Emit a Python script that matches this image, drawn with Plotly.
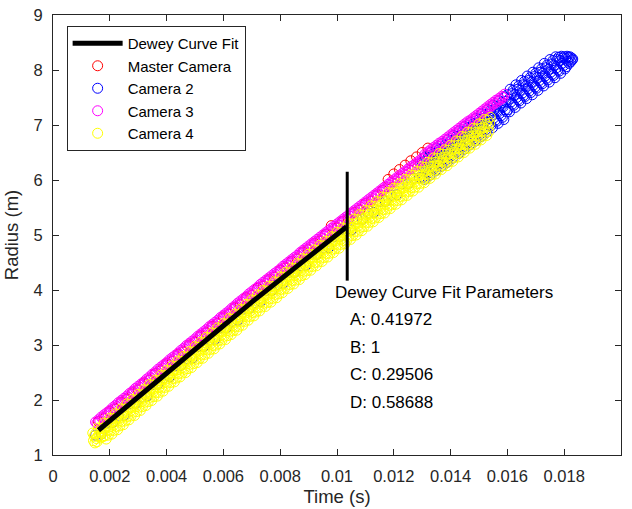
import plotly.graph_objects as go

# ---------------- data ----------------
fit_time = [0.0016, 0.0020, 0.0030, 0.0040, 0.0050, 0.0060, 0.0070, 0.0080, 0.0090, 0.0100, 0.01034]
fit_radius = [1.45, 1.625, 2.06, 2.495, 2.925, 3.35, 3.78, 4.195, 4.605, 5.01, 5.15]

fit_end_time = [0.01036, 0.01036]
fit_end_marker = [4.17, 6.15]

master_time = [0.0016, 0.0018, 0.0020, 0.0022, 0.0024, 0.0026, 0.0028, 0.0030, 0.0032, 0.0034,
               0.0036, 0.0038, 0.0040, 0.0042, 0.0044, 0.0046, 0.0048, 0.0050, 0.0052, 0.0054,
               0.0056, 0.0058, 0.0060, 0.0062, 0.0064, 0.0066, 0.0068, 0.0070, 0.0072, 0.0074,
               0.0076, 0.0078, 0.0080, 0.0082, 0.0084, 0.0086, 0.0088, 0.0090, 0.0092, 0.0094,
               0.0096, 0.0098, 0.0100, 0.0102, 0.0104, 0.0106, 0.0108, 0.0110, 0.0112, 0.0114,
               0.0116, 0.0118, 0.0120, 0.0122, 0.0124, 0.0126, 0.0128, 0.0130, 0.0132]
master_radius = [1.61, 1.66, 1.79, 1.83, 1.96, 2.01, 2.13, 2.18, 2.31, 2.36,
                 2.48, 2.53, 2.66, 2.70, 2.83, 2.87, 3.00, 3.05, 3.17, 3.22,
                 3.34, 3.39, 3.51, 3.56, 3.68, 3.73, 3.86, 3.90, 4.03, 4.07,
                 4.19, 4.23, 4.36, 4.40, 4.52, 4.56, 4.69, 4.73, 4.85, 4.89,
                 5.01, 5.17, 5.13, 5.25, 5.29, 5.41, 5.45, 5.57, 5.61, 5.73,
                 5.81, 6.01, 6.11, 6.19, 6.27, 6.35, 6.42, 6.50, 6.58]

cam2_time = [0.0015, 0.0017, 0.0019, 0.0021, 0.0023, 0.0025, 0.0027, 0.0029, 0.0031, 0.0033,
             0.0035, 0.0037, 0.0039, 0.0041, 0.0043, 0.0045, 0.0047, 0.0049, 0.0051, 0.0053,
             0.0055, 0.0057, 0.0059, 0.0061, 0.0063, 0.0065, 0.0067, 0.0069, 0.0071, 0.0073,
             0.0075, 0.0077, 0.0079, 0.0081, 0.0083, 0.0085, 0.0087, 0.0089, 0.0091, 0.0093,
             0.0095, 0.0097, 0.0099, 0.0101, 0.0103, 0.0105, 0.0107, 0.0109, 0.0111, 0.0113,
             0.0115, 0.0117, 0.0119, 0.0121, 0.0123, 0.0125, 0.0127, 0.0129,
             0.013000, 0.013025, 0.013050, 0.013075, 0.013100, 0.013125, 0.013150, 0.013175,
             0.013200, 0.013225, 0.013250, 0.013275, 0.013300, 0.013325, 0.013350, 0.013375,
             0.013400, 0.013425, 0.013450, 0.013475, 0.013500, 0.013525, 0.013550, 0.013575,
             0.013600, 0.013625, 0.013650, 0.013675, 0.013700, 0.013725, 0.013750, 0.013775,
             0.013800, 0.013825, 0.013850, 0.013875, 0.013900, 0.013925, 0.013950, 0.013975,
             0.014000, 0.014025, 0.014050, 0.014075, 0.014100, 0.014125, 0.014150, 0.014175,
             0.014200, 0.014225, 0.014250, 0.014275, 0.014300, 0.014325, 0.014350, 0.014375,
             0.014400, 0.014425, 0.014450, 0.014475, 0.014500, 0.014525, 0.014550, 0.014575,
             0.014600, 0.014625, 0.014650, 0.014675, 0.014700, 0.014725, 0.014750, 0.014775,
             0.014800, 0.014825, 0.014850, 0.014875, 0.014900, 0.014925, 0.014950, 0.014975,
             0.015000, 0.015025, 0.015050, 0.015075, 0.015100, 0.015125, 0.015150, 0.015175,
             0.015200, 0.015225, 0.015250, 0.015275, 0.015300, 0.015325, 0.015350, 0.015375,
             0.015400, 0.015425, 0.015450, 0.015475, 0.015500, 0.015525, 0.015550, 0.015575,
             0.015600, 0.015625, 0.015650, 0.015675, 0.015700, 0.015725, 0.015750, 0.015775,
             0.015800, 0.015825, 0.015850, 0.015875, 0.015900, 0.015925, 0.015950, 0.015975,
             0.016000, 0.016025, 0.016050, 0.016075, 0.016100, 0.016125, 0.016150, 0.016175,
             0.016200, 0.016225, 0.016250, 0.016275, 0.016300, 0.016325, 0.016350, 0.016375,
             0.016400, 0.016425, 0.016450, 0.016475, 0.016500, 0.016525, 0.016550, 0.016575,
             0.016600, 0.016625, 0.016650, 0.016675, 0.016700, 0.016725, 0.016750, 0.016775,
             0.016800, 0.016825, 0.016850, 0.016875, 0.016900, 0.016925, 0.016950, 0.016975,
             0.017000, 0.017025, 0.017050, 0.017075, 0.017100, 0.017125, 0.017150, 0.017175,
             0.017200, 0.017225, 0.017250, 0.017275, 0.017300, 0.017325, 0.017350, 0.017375,
             0.017400, 0.017425, 0.017450, 0.017475, 0.017500, 0.017525, 0.017550, 0.017575,
             0.017600, 0.017625, 0.017650, 0.017675, 0.017700, 0.017725, 0.017750, 0.017775,
             0.017800, 0.017825, 0.017850, 0.017875, 0.017900, 0.017925, 0.017950, 0.017975,
             0.018000, 0.018025, 0.018050, 0.018075, 0.018100, 0.018125, 0.018150, 0.018175,
             0.018200, 0.018225, 0.018250, 0.018275, 0.018300]
cam2_radius = [1.36, 1.38, 1.58, 1.59, 1.71, 1.72, 1.93, 1.94, 2.05, 2.07,
               2.28, 2.29, 2.40, 2.42, 2.62, 2.63, 2.75, 2.76, 2.97, 2.97,
               3.09, 3.10, 3.31, 3.31, 3.43, 3.45, 3.65, 3.66, 3.77, 3.79,
               3.99, 3.99, 4.10, 4.12, 4.32, 4.32, 4.44, 4.45, 4.65, 4.65,
               4.76, 4.77, 4.97, 4.97, 5.08, 5.09, 5.29, 5.29, 5.40, 5.41,
               5.61, 5.61, 5.72, 5.73, 5.93, 5.93, 6.03, 6.04,
               6.32, 6.05, 6.24, 6.01, 6.42, 6.19, 6.34, 6.15,
               6.40, 6.13, 6.32, 6.09, 6.50, 6.27, 6.42, 6.23,
               6.48, 6.21, 6.40, 6.17, 6.58, 6.35, 6.50, 6.31,
               6.56, 6.29, 6.48, 6.25, 6.66, 6.43, 6.58, 6.39,
               6.63, 6.36, 6.55, 6.32, 6.73, 6.50, 6.65, 6.46,
               6.71, 6.44, 6.63, 6.40, 6.81, 6.58, 6.73, 6.54,
               6.79, 6.52, 6.71, 6.48, 6.89, 6.66, 6.81, 6.62,
               6.87, 6.60, 6.79, 6.56, 6.97, 6.74, 6.89, 6.70,
               6.95, 6.68, 6.87, 6.64, 7.05, 6.82, 6.97, 6.78,
               7.02, 6.75, 6.94, 6.71, 7.12, 6.89, 7.04, 6.85,
               7.10, 6.83, 7.02, 6.79, 7.20, 6.97, 7.12, 6.93,
               7.18, 6.91, 7.10, 6.87, 7.28, 7.05, 7.20, 7.01,
               7.26, 6.99, 7.18, 6.95, 7.36, 7.13, 7.28, 7.09,
               7.34, 7.07, 7.26, 7.03, 7.44, 7.21, 7.36, 7.17,
               7.41, 7.14, 7.33, 7.10, 7.51, 7.28, 7.43, 7.24,
               7.55, 7.28, 7.47, 7.24, 7.65, 7.42, 7.57, 7.38,
               7.63, 7.36, 7.55, 7.32, 7.73, 7.50, 7.65, 7.46,
               7.71, 7.44, 7.63, 7.40, 7.81, 7.58, 7.73, 7.54,
               7.79, 7.52, 7.71, 7.48, 7.89, 7.66, 7.81, 7.62,
               7.86, 7.59, 7.78, 7.55, 7.96, 7.73, 7.88, 7.69,
               7.94, 7.67, 7.86, 7.63, 8.04, 7.81, 7.96, 7.77,
               8.02, 7.75, 7.94, 7.71, 8.12, 7.89, 8.04, 7.85,
               8.09, 7.82, 8.01, 7.78, 8.19, 7.96, 8.11, 7.92,
               8.17, 7.90, 8.09, 7.86, 8.24, 8.04, 8.19, 8.00,
               8.23, 7.98, 8.17, 7.94, 8.25, 8.12, 8.22, 8.08,
               8.24, 8.02, 8.21, 8.06, 8.25, 8.16, 8.23, 8.12,
               8.24, 8.15, 8.22, 8.18, 8.20]

cam3_time = [0.00150, 0.00155, 0.00160, 0.00165, 0.00170, 0.00175, 0.00180, 0.00185,
             0.00190, 0.00195, 0.00200, 0.00205, 0.00210, 0.00215, 0.00220, 0.00225,
             0.00230, 0.00235, 0.00240, 0.00245, 0.00250, 0.00255, 0.00260, 0.00265,
             0.00270, 0.00275, 0.00280, 0.00285, 0.00290, 0.00295, 0.00300, 0.00305,
             0.00310, 0.00315, 0.00320, 0.00325, 0.00330, 0.00335, 0.00340, 0.00345,
             0.00350, 0.00355, 0.00360, 0.00365, 0.00370, 0.00375, 0.00380, 0.00385,
             0.00390, 0.00395, 0.00400, 0.00405, 0.00410, 0.00415, 0.00420, 0.00425,
             0.00430, 0.00435, 0.00440, 0.00445, 0.00450, 0.00455, 0.00460, 0.00465,
             0.00470, 0.00475, 0.00480, 0.00485, 0.00490, 0.00495, 0.00500, 0.00505,
             0.00510, 0.00515, 0.00520, 0.00525, 0.00530, 0.00535, 0.00540, 0.00545,
             0.00550, 0.00555, 0.00560, 0.00565, 0.00570, 0.00575, 0.00580, 0.00585,
             0.00590, 0.00595, 0.00600, 0.00605, 0.00610, 0.00615, 0.00620, 0.00625,
             0.00630, 0.00635, 0.00640, 0.00645, 0.00650, 0.00655, 0.00660, 0.00665,
             0.00670, 0.00675, 0.00680, 0.00685, 0.00690, 0.00695, 0.00700, 0.00705,
             0.00710, 0.00715, 0.00720, 0.00725, 0.00730, 0.00735, 0.00740, 0.00745,
             0.00750, 0.00755, 0.00760, 0.00765, 0.00770, 0.00775, 0.00780, 0.00785,
             0.00790, 0.00795, 0.00800, 0.00805, 0.00810, 0.00815, 0.00820, 0.00825,
             0.00830, 0.00835, 0.00840, 0.00845, 0.00850, 0.00855, 0.00860, 0.00865,
             0.00870, 0.00875, 0.00880, 0.00885, 0.00890, 0.00895, 0.00900, 0.00905,
             0.00910, 0.00915, 0.00920, 0.00925, 0.00930, 0.00935, 0.00940, 0.00945,
             0.00950, 0.00955, 0.00960, 0.00965, 0.00970, 0.00975, 0.00980, 0.00985,
             0.00990, 0.00995, 0.01000, 0.01005, 0.01010, 0.01015, 0.01020, 0.01025,
             0.01030, 0.01035, 0.01040, 0.01045, 0.01050, 0.01055, 0.01060, 0.01065,
             0.01070, 0.01075, 0.01080, 0.01085, 0.01090, 0.01095, 0.01100, 0.01105,
             0.01110, 0.01115, 0.01120, 0.01125, 0.01130, 0.01135, 0.01140, 0.01145,
             0.01150, 0.01155, 0.01160, 0.01165, 0.01170, 0.01175, 0.01180, 0.01185,
             0.01190, 0.01195, 0.01200, 0.01205, 0.01210, 0.01215, 0.01220, 0.01225,
             0.01230, 0.01235, 0.01240, 0.01245, 0.01250, 0.01255, 0.01260, 0.01265,
             0.01270, 0.01275, 0.01280, 0.01285, 0.01290, 0.01295, 0.01300, 0.01305,
             0.01310, 0.01315, 0.01320, 0.01325, 0.01330, 0.01335, 0.01340, 0.01345,
             0.01350, 0.01355, 0.01360, 0.01365, 0.01370, 0.01375, 0.01380, 0.01385,
             0.01390, 0.01395, 0.01400, 0.01405, 0.01410, 0.01415, 0.01420, 0.01425,
             0.01430, 0.01435, 0.01440, 0.01445, 0.01450, 0.01455, 0.01460, 0.01465,
             0.01470, 0.01475, 0.01480, 0.01485, 0.01490, 0.01495, 0.01500, 0.01505,
             0.01510, 0.01515, 0.01520, 0.01525, 0.01530, 0.01535, 0.01540, 0.01545,
             0.01550, 0.01555, 0.01560, 0.01565, 0.01570, 0.01575, 0.01580, 0.01585,
             0.01590]
cam3_radius = [1.60, 1.58, 1.64, 1.62, 1.69, 1.67, 1.73, 1.71,
               1.77, 1.75, 1.81, 1.79, 1.86, 1.84, 1.90, 1.88,
               1.95, 1.93, 1.99, 1.97, 2.03, 2.01, 2.07, 2.05,
               2.12, 2.10, 2.16, 2.14, 2.21, 2.19, 2.25, 2.23,
               2.29, 2.27, 2.33, 2.31, 2.38, 2.36, 2.42, 2.40,
               2.47, 2.45, 2.51, 2.49, 2.56, 2.54, 2.60, 2.58,
               2.64, 2.62, 2.68, 2.66, 2.73, 2.71, 2.77, 2.75,
               2.81, 2.79, 2.85, 2.83, 2.90, 2.88, 2.94, 2.92,
               2.99, 2.97, 3.03, 3.01, 3.07, 3.05, 3.11, 3.09,
               3.16, 3.14, 3.20, 3.18, 3.24, 3.22, 3.28, 3.26,
               3.33, 3.31, 3.37, 3.35, 3.41, 3.39, 3.45, 3.43,
               3.50, 3.48, 3.54, 3.52, 3.58, 3.56, 3.62, 3.60,
               3.67, 3.65, 3.71, 3.69, 3.76, 3.74, 3.80, 3.78,
               3.84, 3.82, 3.88, 3.86, 3.93, 3.91, 3.97, 3.95,
               4.01, 3.99, 4.05, 4.03, 4.10, 4.08, 4.14, 4.12,
               4.18, 4.16, 4.22, 4.20, 4.26, 4.24, 4.30, 4.28,
               4.34, 4.32, 4.38, 4.36, 4.43, 4.41, 4.47, 4.45,
               4.51, 4.49, 4.55, 4.53, 4.59, 4.57, 4.63, 4.61,
               4.68, 4.66, 4.72, 4.70, 4.76, 4.74, 4.80, 4.78,
               4.84, 4.82, 4.88, 4.86, 4.92, 4.90, 4.96, 4.94,
               5.00, 4.98, 5.04, 5.02, 5.08, 5.06, 5.12, 5.10,
               5.16, 5.14, 5.20, 5.18, 5.24, 5.22, 5.28, 5.26,
               5.32, 5.30, 5.36, 5.34, 5.40, 5.38, 5.44, 5.42,
               5.48, 5.46, 5.52, 5.50, 5.56, 5.54, 5.60, 5.58,
               5.64, 5.62, 5.68, 5.66, 5.72, 5.70, 5.76, 5.74,
               5.80, 5.78, 5.84, 5.82, 5.88, 5.86, 5.92, 5.90,
               5.96, 5.94, 6.00, 5.98, 6.04, 6.02, 6.08, 6.06,
               6.12, 6.10, 6.16, 6.14, 6.20, 6.18, 6.24, 6.22,
               6.27, 6.25, 6.31, 6.29, 6.35, 6.33, 6.39, 6.37,
               6.47, 6.45, 6.51, 6.49, 6.55, 6.53, 6.59, 6.57,
               6.63, 6.61, 6.67, 6.65, 6.70, 6.68, 6.74, 6.72,
               6.78, 6.76, 6.82, 6.80, 6.86, 6.84, 6.90, 6.88,
               6.94, 6.92, 6.98, 6.96, 7.02, 7.00, 7.06, 7.04,
               7.09, 7.07, 7.13, 7.11, 7.17, 7.15, 7.21, 7.19,
               7.25, 7.23, 7.29, 7.27, 7.33, 7.31, 7.37, 7.35,
               7.41, 7.39, 7.45, 7.43, 7.48, 7.46, 7.52, 7.50,
               7.56]

cam4_time = [0.001400, 0.001425, 0.001450, 0.001475, 0.001500, 0.001525, 0.001550, 0.001575,
             0.001600, 0.001625, 0.001650, 0.001675, 0.001700, 0.001725, 0.001750, 0.001775,
             0.001800, 0.001825, 0.001850, 0.001875, 0.001900, 0.001925, 0.001950, 0.001975,
             0.002000, 0.002025, 0.002050, 0.002075, 0.002100, 0.002125, 0.002150, 0.002175,
             0.002200, 0.002225, 0.002250, 0.002275, 0.002300, 0.002325, 0.002350, 0.002375,
             0.002400, 0.002425, 0.002450, 0.002475, 0.002500, 0.002525, 0.002550, 0.002575,
             0.002600, 0.002625, 0.002650, 0.002675, 0.002700, 0.002725, 0.002750, 0.002775,
             0.002800, 0.002825, 0.002850, 0.002875, 0.002900, 0.002925, 0.002950, 0.002975,
             0.003000, 0.003025, 0.003050, 0.003075, 0.003100, 0.003125, 0.003150, 0.003175,
             0.003200, 0.003225, 0.003250, 0.003275, 0.003300, 0.003325, 0.003350, 0.003375,
             0.003400, 0.003425, 0.003450, 0.003475, 0.003500, 0.003525, 0.003550, 0.003575,
             0.003600, 0.003625, 0.003650, 0.003675, 0.003700, 0.003725, 0.003750, 0.003775,
             0.003800, 0.003825, 0.003850, 0.003875, 0.003900, 0.003925, 0.003950, 0.003975,
             0.004000, 0.004025, 0.004050, 0.004075, 0.004100, 0.004125, 0.004150, 0.004175,
             0.004200, 0.004225, 0.004250, 0.004275, 0.004300, 0.004325, 0.004350, 0.004375,
             0.004400, 0.004425, 0.004450, 0.004475, 0.004500, 0.004525, 0.004550, 0.004575,
             0.004600, 0.004625, 0.004650, 0.004675, 0.004700, 0.004725, 0.004750, 0.004775,
             0.004800, 0.004825, 0.004850, 0.004875, 0.004900, 0.004925, 0.004950, 0.004975,
             0.005000, 0.005025, 0.005050, 0.005075, 0.005100, 0.005125, 0.005150, 0.005175,
             0.005200, 0.005225, 0.005250, 0.005275, 0.005300, 0.005325, 0.005350, 0.005375,
             0.005400, 0.005425, 0.005450, 0.005475, 0.005500, 0.005525, 0.005550, 0.005575,
             0.005600, 0.005625, 0.005650, 0.005675, 0.005700, 0.005725, 0.005750, 0.005775,
             0.005800, 0.005825, 0.005850, 0.005875, 0.005900, 0.005925, 0.005950, 0.005975,
             0.006000, 0.006025, 0.006050, 0.006075, 0.006100, 0.006125, 0.006150, 0.006175,
             0.006200, 0.006225, 0.006250, 0.006275, 0.006300, 0.006325, 0.006350, 0.006375,
             0.006400, 0.006425, 0.006450, 0.006475, 0.006500, 0.006525, 0.006550, 0.006575,
             0.006600, 0.006625, 0.006650, 0.006675, 0.006700, 0.006725, 0.006750, 0.006775,
             0.006800, 0.006825, 0.006850, 0.006875, 0.006900, 0.006925, 0.006950, 0.006975,
             0.007000, 0.007025, 0.007050, 0.007075, 0.007100, 0.007125, 0.007150, 0.007175,
             0.007200, 0.007225, 0.007250, 0.007275, 0.007300, 0.007325, 0.007350, 0.007375,
             0.007400, 0.007425, 0.007450, 0.007475, 0.007500, 0.007525, 0.007550, 0.007575,
             0.007600, 0.007625, 0.007650, 0.007675, 0.007700, 0.007725, 0.007750, 0.007775,
             0.007800, 0.007825, 0.007850, 0.007875, 0.007900, 0.007925, 0.007950, 0.007975,
             0.008000, 0.008025, 0.008050, 0.008075, 0.008100, 0.008125, 0.008150, 0.008175,
             0.008200, 0.008225, 0.008250, 0.008275, 0.008300, 0.008325, 0.008350, 0.008375,
             0.008400, 0.008425, 0.008450, 0.008475, 0.008500, 0.008525, 0.008550, 0.008575,
             0.008600, 0.008625, 0.008650, 0.008675, 0.008700, 0.008725, 0.008750, 0.008775,
             0.008800, 0.008825, 0.008850, 0.008875, 0.008900, 0.008925, 0.008950, 0.008975,
             0.009000, 0.009025, 0.009050, 0.009075, 0.009100, 0.009125, 0.009150, 0.009175,
             0.009200, 0.009225, 0.009250, 0.009275, 0.009300, 0.009325, 0.009350, 0.009375,
             0.009400, 0.009425, 0.009450, 0.009475, 0.009500, 0.009525, 0.009550, 0.009575,
             0.009600, 0.009625, 0.009650, 0.009675, 0.009700, 0.009725, 0.009750, 0.009775,
             0.009800, 0.009825, 0.009850, 0.009875, 0.009900, 0.009925, 0.009950, 0.009975,
             0.010000, 0.010025, 0.010050, 0.010075, 0.010100, 0.010125, 0.010150, 0.010175,
             0.010200, 0.010225, 0.010250, 0.010275, 0.010300, 0.010325, 0.010350, 0.010375,
             0.010400, 0.010425, 0.010450, 0.010475, 0.010500, 0.010525, 0.010550, 0.010575,
             0.010600, 0.010625, 0.010650, 0.010675, 0.010700, 0.010725, 0.010750, 0.010775,
             0.010800, 0.010825, 0.010850, 0.010875, 0.010900, 0.010925, 0.010950, 0.010975,
             0.011000, 0.011025, 0.011050, 0.011075, 0.011100, 0.011125, 0.011150, 0.011175,
             0.011200, 0.011225, 0.011250, 0.011275, 0.011300, 0.011325, 0.011350, 0.011375,
             0.011400, 0.011425, 0.011450, 0.011475, 0.011500, 0.011525, 0.011550, 0.011575,
             0.011600, 0.011625, 0.011650, 0.011675, 0.011700, 0.011725, 0.011750, 0.011775,
             0.011800, 0.011825, 0.011850, 0.011875, 0.011900, 0.011925, 0.011950, 0.011975,
             0.012000, 0.012025, 0.012050, 0.012075, 0.012100, 0.012125, 0.012150, 0.012175,
             0.012200, 0.012225, 0.012250, 0.012275, 0.012300, 0.012325, 0.012350, 0.012375,
             0.012400, 0.012425, 0.012450, 0.012475, 0.012500, 0.012525, 0.012550, 0.012575,
             0.012600, 0.012625, 0.012650, 0.012675, 0.012700, 0.012725, 0.012750, 0.012775,
             0.012800, 0.012825, 0.012850, 0.012875, 0.012900, 0.012925, 0.012950, 0.012975,
             0.013000, 0.013025, 0.013050, 0.013075, 0.013100, 0.013125, 0.013150, 0.013175,
             0.013200, 0.013225, 0.013250, 0.013275, 0.013300, 0.013325, 0.013350, 0.013375,
             0.013400, 0.013425, 0.013450, 0.013475, 0.013500, 0.013525, 0.013550, 0.013575,
             0.013600, 0.013625, 0.013650, 0.013675, 0.013700, 0.013725, 0.013750, 0.013775,
             0.013800, 0.013825, 0.013850, 0.013875, 0.013900, 0.013925, 0.013950, 0.013975,
             0.014000, 0.014025, 0.014050, 0.014075, 0.014100, 0.014125, 0.014150, 0.014175,
             0.014200, 0.014225, 0.014250, 0.014275, 0.014300, 0.014325, 0.014350, 0.014375,
             0.014400, 0.014425, 0.014450, 0.014475, 0.014500, 0.014525, 0.014550, 0.014575,
             0.014600, 0.014625, 0.014650, 0.014675, 0.014700, 0.014725, 0.014750, 0.014775,
             0.014800, 0.014825, 0.014850, 0.014875, 0.014900, 0.014925, 0.014950, 0.014975,
             0.015000, 0.015025, 0.015050, 0.015075, 0.015100, 0.015125, 0.015150, 0.015175,
             0.015200, 0.015225, 0.015250, 0.015275, 0.015300, 0.015325, 0.015350, 0.015375,
             0.015400]
cam4_radius = [1.40, 1.26, 1.34, 1.22, 1.39, 1.30, 1.24, 1.34,
               1.49, 1.35, 1.43, 1.31, 1.48, 1.39, 1.33, 1.43,
               1.58, 1.35, 1.50, 1.29, 1.57, 1.45, 1.36, 1.51,
               1.67, 1.44, 1.59, 1.38, 1.66, 1.54, 1.45, 1.60,
               1.75, 1.52, 1.67, 1.46, 1.74, 1.62, 1.53, 1.68,
               1.84, 1.61, 1.76, 1.55, 1.83, 1.71, 1.62, 1.77,
               1.93, 1.70, 1.85, 1.64, 1.92, 1.80, 1.71, 1.86,
               2.01, 1.78, 1.93, 1.72, 2.00, 1.88, 1.79, 1.94,
               2.10, 1.87, 2.02, 1.81, 2.09, 1.97, 1.88, 2.03,
               2.19, 1.96, 2.11, 1.90, 2.18, 2.06, 1.97, 2.12,
               2.28, 2.05, 2.20, 1.99, 2.27, 2.15, 2.06, 2.21,
               2.36, 2.13, 2.28, 2.07, 2.35, 2.23, 2.14, 2.29,
               2.45, 2.22, 2.37, 2.16, 2.44, 2.32, 2.23, 2.38,
               2.54, 2.31, 2.46, 2.25, 2.53, 2.41, 2.32, 2.47,
               2.62, 2.39, 2.54, 2.33, 2.61, 2.49, 2.40, 2.55,
               2.71, 2.48, 2.63, 2.42, 2.70, 2.58, 2.49, 2.64,
               2.79, 2.56, 2.71, 2.50, 2.78, 2.66, 2.57, 2.72,
               2.88, 2.65, 2.80, 2.59, 2.87, 2.75, 2.66, 2.81,
               2.97, 2.74, 2.89, 2.68, 2.96, 2.84, 2.75, 2.90,
               3.05, 2.82, 2.97, 2.76, 3.04, 2.92, 2.83, 2.98,
               3.14, 2.91, 3.06, 2.85, 3.13, 3.01, 2.92, 3.07,
               3.22, 2.99, 3.14, 2.93, 3.21, 3.09, 3.00, 3.15,
               3.31, 3.08, 3.23, 3.02, 3.30, 3.18, 3.09, 3.24,
               3.39, 3.16, 3.31, 3.10, 3.38, 3.26, 3.17, 3.32,
               3.48, 3.25, 3.40, 3.19, 3.47, 3.35, 3.26, 3.41,
               3.56, 3.33, 3.48, 3.27, 3.55, 3.43, 3.34, 3.49,
               3.65, 3.42, 3.57, 3.36, 3.64, 3.52, 3.43, 3.58,
               3.74, 3.51, 3.66, 3.45, 3.73, 3.61, 3.52, 3.67,
               3.82, 3.59, 3.74, 3.53, 3.81, 3.69, 3.60, 3.75,
               3.91, 3.68, 3.83, 3.62, 3.90, 3.78, 3.69, 3.84,
               3.99, 3.76, 3.91, 3.70, 3.98, 3.86, 3.77, 3.92,
               4.07, 3.84, 3.99, 3.78, 4.06, 3.94, 3.85, 4.00,
               4.15, 3.92, 4.07, 3.86, 4.14, 4.02, 3.93, 4.08,
               4.24, 4.01, 4.16, 3.95, 4.23, 4.11, 4.02, 4.17,
               4.32, 4.09, 4.24, 4.03, 4.31, 4.19, 4.10, 4.25,
               4.40, 4.17, 4.32, 4.11, 4.39, 4.27, 4.18, 4.33,
               4.48, 4.25, 4.40, 4.19, 4.47, 4.35, 4.26, 4.41,
               4.57, 4.34, 4.49, 4.28, 4.56, 4.44, 4.35, 4.50,
               4.65, 4.42, 4.57, 4.36, 4.64, 4.52, 4.43, 4.58,
               4.73, 4.50, 4.65, 4.44, 4.72, 4.60, 4.51, 4.66,
               4.81, 4.58, 4.73, 4.52, 4.80, 4.68, 4.59, 4.74,
               4.89, 4.66, 4.81, 4.60, 4.88, 4.76, 4.67, 4.82,
               4.97, 4.74, 4.89, 4.68, 4.96, 4.84, 4.75, 4.90,
               5.05, 4.82, 4.97, 4.76, 5.04, 4.92, 4.83, 4.98,
               5.13, 4.90, 5.05, 4.84, 5.12, 5.00, 4.91, 5.06,
               5.21, 4.98, 5.13, 4.92, 5.20, 5.08, 4.99, 5.14,
               5.29, 5.06, 5.21, 5.00, 5.28, 5.16, 5.07, 5.22,
               5.37, 5.14, 5.29, 5.08, 5.36, 5.24, 5.15, 5.30,
               5.45, 5.22, 5.37, 5.16, 5.44, 5.32, 5.23, 5.38,
               5.53, 5.30, 5.45, 5.24, 5.52, 5.40, 5.31, 5.46,
               5.61, 5.38, 5.53, 5.32, 5.60, 5.48, 5.39, 5.54,
               5.69, 5.46, 5.61, 5.40, 5.68, 5.56, 5.47, 5.62,
               5.77, 5.54, 5.69, 5.48, 5.76, 5.64, 5.55, 5.70,
               5.85, 5.62, 5.77, 5.56, 5.84, 5.72, 5.63, 5.78,
               5.93, 5.70, 5.85, 5.64, 5.92, 5.80, 5.71, 5.86,
               6.01, 5.78, 5.93, 5.72, 6.00, 5.88, 5.79, 5.94,
               6.09, 5.86, 6.01, 5.80, 6.08, 5.96, 5.87, 6.02,
               6.16, 5.93, 6.08, 5.87, 6.15, 6.03, 5.94, 6.09,
               6.24, 6.01, 6.16, 5.95, 6.23, 6.11, 6.02, 6.17,
               6.32, 6.09, 6.24, 6.03, 6.31, 6.19, 6.10, 6.25,
               6.40, 6.17, 6.32, 6.11, 6.39, 6.27, 6.18, 6.33,
               6.48, 6.25, 6.40, 6.19, 6.47, 6.35, 6.26, 6.41,
               6.55, 6.32, 6.47, 6.26, 6.54, 6.42, 6.33, 6.48,
               6.63, 6.40, 6.55, 6.34, 6.62, 6.50, 6.41, 6.56,
               6.71, 6.48, 6.63, 6.42, 6.70, 6.58, 6.49, 6.64,
               6.79, 6.56, 6.71, 6.50, 6.78, 6.66, 6.57, 6.72,
               6.87, 6.64, 6.79, 6.58, 6.86, 6.74, 6.65, 6.80,
               6.94, 6.71, 6.86, 6.65, 6.93, 6.81, 6.72, 6.87,
               7.02, 6.79, 6.94, 6.73, 7.01, 6.89, 6.80, 6.95,
               7.10, 6.87, 7.02, 6.81, 7.09, 6.97, 6.88, 7.03,
               7.14]

x_tick_vals = [0, 0.002, 0.004, 0.006, 0.008, 0.010, 0.012, 0.014, 0.016, 0.018, 0.020]
x_tick_text = ["0", "0.002", "0.004", "0.006", "0.008", "0.01", "0.012", "0.014", "0.016", "0.018", "0.02"]
y_tick_vals = [1, 2, 3, 4, 5, 6, 7, 8, 9]

param_title = "Dewey Curve Fit Parameters"
param_names = ["A", "B", "C", "D"]
param_values = ["0.41972", "1", "0.29506", "0.58688"]
param_text_x = 0.00986
param_title_y = 3.95
param_rows_x = 0.01038
param_rows_y = [3.455, 2.95, 2.46, 1.96]

# ---------------- figure ----------------
FONT = "Liberation Sans, Arial, Helvetica, sans-serif"
AX = "#262626"
fig = go.Figure()

def cam_trace(t, r, name, color, rank):
    return go.Scatter(x=t, y=r, mode="markers", name=name, legendrank=rank,
                      marker=dict(symbol="circle-open", size=10, color=color,
                                  line=dict(width=1, color=color)))

fig.add_trace(cam_trace(master_time, master_radius, "Master Camera", "#ff0000", 2))
fig.add_trace(cam_trace(cam2_time, cam2_radius, "Camera 2", "#0000ff", 3))
fig.add_trace(cam_trace(cam3_time, cam3_radius, "Camera 3", "#ff00ff", 4))
fig.add_trace(cam_trace(cam4_time, cam4_radius, "Camera 4", "#ffff00", 5))
fig.add_trace(go.Scatter(x=fit_time, y=fit_radius, mode="lines", name="Dewey Curve Fit",
                         legendrank=1, line=dict(color="black", width=5)))
fig.add_trace(go.Scatter(x=fit_end_time, y=fit_end_marker, mode="lines", showlegend=False,
                         line=dict(color="black", width=3)))

fig.add_annotation(x=param_text_x, y=param_title_y, xref="x", yref="y", text=param_title,
                   showarrow=False, xanchor="left", yanchor="middle",
                   font=dict(family=FONT, size=17, color="black"))
for nm, val, yy in zip(param_names, param_values, param_rows_y):
    fig.add_annotation(x=param_rows_x, y=yy, xref="x", yref="y", text=f"{nm}: {val}",
                       showarrow=False, xanchor="left", yanchor="middle",
                       font=dict(family=FONT, size=17, color="black"))

axis_common = dict(showline=True, linecolor=AX, linewidth=1, mirror="allticks",
                   ticks="inside", ticklen=6, tickcolor=AX, tickwidth=1,
                   showgrid=False, zeroline=False,
                   tickfont=dict(family=FONT, size=16.5, color=AX))

fig.update_xaxes(range=[0, 0.02], tickvals=x_tick_vals, ticktext=x_tick_text,
                 ticklabelstandoff=6,
                 title=dict(text="Time (s)", font=dict(family=FONT, size=18.5, color=AX), standoff=6),
                 **axis_common)
fig.update_yaxes(range=[1, 9], tickvals=y_tick_vals,
                 ticklabelstandoff=6,
                 title=dict(text="Radius (m)", font=dict(family=FONT, size=18.5, color=AX), standoff=10),
                 **axis_common)

fig.update_layout(
    width=632, height=509,
    margin=dict(l=53, r=11, t=15, b=54, autoexpand=False),
    paper_bgcolor="white", plot_bgcolor="white",
    font=dict(family=FONT, color=AX),
    showlegend=True,
    legend=dict(x=0.024, y=0.975, xanchor="left", yanchor="top",
                bgcolor="white", bordercolor=AX, borderwidth=1,
                font=dict(family=FONT, size=15, color="black"),
                itemwidth=50, tracegroupgap=0, traceorder="normal"),
)

fig.write_html("out.html")
